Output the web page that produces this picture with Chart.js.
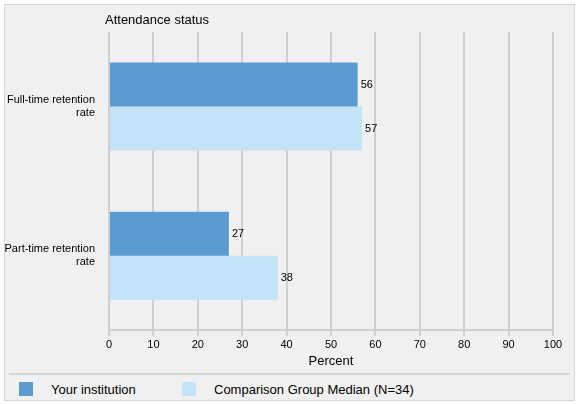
<!DOCTYPE html>
<html><head><meta charset="utf-8">
<script src="https://cdn.jsdelivr.net/npm/chart.js@4"></script>
<style>
body{margin:0;background:#fff;font-family:Arial,"Liberation Sans",sans-serif}
#wrap{position:absolute;left:4px;top:4px;width:569px;height:395px;background:#f0f0f0;border:1px solid #d6d6d6}
#cv{position:absolute;left:0;top:0}
#sep{position:absolute;left:4px;right:4px;top:368px;height:2px;background:#d6d6d6}
.lg{position:absolute;top:376px;font-size:13px;color:#000;line-height:18px}
.sw{display:inline-block;width:14px;height:14px;vertical-align:-2px;margin-right:18px}
</style></head><body>
<div id="wrap"><canvas id="cv" width="569" height="368"></canvas><div id="sep"></div>
<div class="lg" style="left:14px"><span class="sw" style="background:#5b9bd0"></span>Your institution</div>
<div class="lg" style="left:177px"><span class="sw" style="background:#c5e3f6"></span>Comparison Group Median (N=34)</div>
</div>
<script>
const categories=[["Full-time retention","rate"],["Part-time retention","rate"]];
const yourInstitution=[56,27];
const comparisonMedian=[57,38];
const xTicks=[0,10,20,30,40,50,60,70,80,90,100];
const labelPlugin={id:'lbl',afterDatasetsDraw(c){const x=c.ctx;x.save();x.font='11px Arial';x.fillStyle='#000';x.textBaseline='middle';
c.data.datasets.forEach((d,i)=>{c.getDatasetMeta(i).data.forEach((b,j)=>{x.fillText(d.data[j],b.x+3,b.y);});});
x.font='13px Arial';x.textBaseline='alphabetic';x.fillText('Attendance status',c.chartArea.left-4,19);x.restore();}};
new Chart(document.getElementById('cv'),{type:'bar',
data:{labels:categories,datasets:[
{label:'Your institution',data:yourInstitution,backgroundColor:'#5b9bd0'},
{label:'Comparison Group Median (N=34)',data:comparisonMedian,backgroundColor:'#c5e3f6'}]},
options:{indexAxis:'y',responsive:false,animation:false,devicePixelRatio:1,
layout:{padding:{top:27,right:21,left:0,bottom:0}},
categoryPercentage:0.59,barPercentage:1,
plugins:{legend:{display:false},tooltip:{enabled:false}},
scales:{
x:{min:0,max:100,afterBuildTicks(s){s.ticks=xTicks.map(v=>({value:v}));},
grid:{color:'#d0d0d0',lineWidth:2,tickLength:6},border:{color:'#d0d0d0',width:2},
ticks:{color:'#000',font:{size:11,family:'Arial'},padding:2},
title:{display:true,text:'Percent',color:'#000',font:{size:13,family:'Arial'},padding:{top:0,bottom:4}}},
y:{grid:{display:false},border:{display:false},
afterFit(s){s.width=104;},
ticks:{color:'#000',font:{size:11,family:'Arial'},padding:6}}}},
plugins:[labelPlugin]});
</script></body></html>
